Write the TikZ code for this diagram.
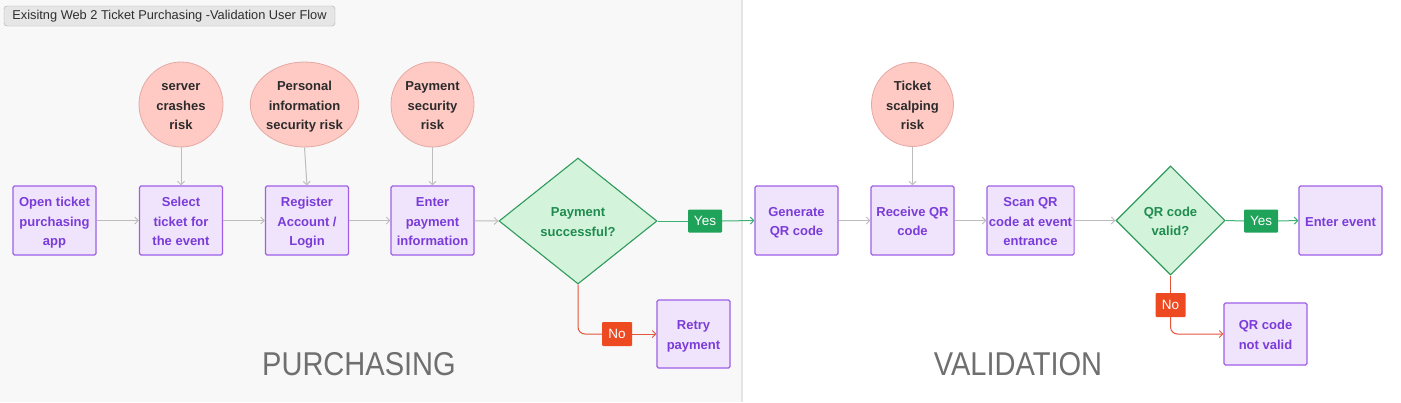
\documentclass[tikz,border=0pt]{standalone}
\usepackage{fontspec}
\setmainfont{Liberation Sans}
\usetikzlibrary{shapes.geometric,arrows.meta}
\definecolor{bgleft}{HTML}{F8F8F8}
\definecolor{divider}{HTML}{E4E4E4}
\definecolor{boxfill}{HTML}{F0E4FD}
\definecolor{boxdraw}{HTML}{9E5FE6}
\definecolor{boxtext}{HTML}{7A3CD8}
\definecolor{riskfill}{HTML}{FFC9C4}
\definecolor{riskdraw}{HTML}{E5A9A3}
\definecolor{risktext}{HTML}{2B2B2B}
\definecolor{decfill}{HTML}{D3F4DB}
\definecolor{decdraw}{HTML}{2F9A5B}
\definecolor{dectext}{HTML}{1F8B4E}
\definecolor{yesfill}{HTML}{1FA35A}
\definecolor{yesline}{HTML}{3DB274}
\definecolor{nofill}{HTML}{EE4A22}
\definecolor{noline}{HTML}{E5553B}
\definecolor{flowline}{HTML}{BDBDBD}
\definecolor{bigtext}{HTML}{6F6F6F}
\definecolor{titlefill}{HTML}{E6E6E6}
\definecolor{titledraw}{HTML}{A8A8A8}
\newcommand{\ml}[1]{\raisebox{-1.8pt}[\height][\depth]{\begin{tabular}{@{}c@{}}#1\end{tabular}}}
\tikzset{
  stepbox/.style={draw=boxdraw, fill=boxfill, line width=1.1pt, rounded corners=1.5pt,
    minimum width=83pt, minimum height=69pt, inner sep=2pt,
    text=boxtext, font=\fontsize{13}{19.5}\selectfont\bfseries},
  riskcirc/.style={ellipse, draw=riskdraw, fill=riskfill, line width=0.8pt,
    inner sep=0pt, text=risktext, font=\fontsize{13}{19.5}\selectfont\bfseries},
  decision/.style={diamond, draw=decdraw, fill=decfill, line width=1.1pt, inner sep=0pt,
    text=dectext, font=\fontsize{13}{19.5}\selectfont\bfseries},
  yestag/.style={fill=yesfill, text=white, rounded corners=1pt, minimum width=34pt,
    minimum height=23pt, inner sep=0pt, font=\fontsize{13.5}{15}\selectfont},
  notag/.style={fill=nofill, text=white, rounded corners=1pt, minimum width=30pt,
    minimum height=24pt, inner sep=0pt, font=\fontsize{13.5}{15}\selectfont},
  flow/.style={draw=flowline, line width=1pt, -{Straight Barb[length=3.5pt,width=7pt]}},
  yesflow/.style={draw=yesline, line width=1pt},
  noflow/.style={draw=noline, line width=1pt, rounded corners=7pt},
  phase/.style={text=bigtext, font=\fontsize{33}{36}\selectfont},
}
\begin{document}
\begin{tikzpicture}[x=1pt,y=-1pt]
\useasboundingbox (0,0) rectangle (1401,402);
\fill[white] (0,0) rectangle (1401,402);
\fill[bgleft] (0,0) rectangle (742,402);
\draw[divider, line width=1.2pt] (742,0) -- (742,402);

\node[draw=titledraw, fill=titlefill, rounded corners=3pt, minimum width=331pt, minimum height=20pt,
  inner sep=0pt, text=black!82, font=\fontsize{12.8}{14}\selectfont] (title) at (169.5,16)
  {Exisitng Web 2 Ticket Purchasing -Validation User Flow};

% risks
\node[riskcirc, minimum width=84pt, minimum height=85pt] (r1) at (181,104.5) {\ml{server\\crashes\\risk}};
\node[riskcirc, minimum width=103pt, minimum height=85pt] (r2) at (304.5,104.5) {\ml{Personal\\information\\security risk}};
\node[riskcirc, minimum width=83pt, minimum height=85pt] (r3) at (432.5,104.5) {\ml{Payment\\security\\risk}};
\node[riskcirc, minimum width=82pt, minimum height=84pt] (r4) at (912.5,104.5) {\ml{Ticket\\scalping\\risk}};

% steps
\node[stepbox] (open) at (54.5,220.5) {\ml{Open ticket\\purchasing\\app}};
\node[stepbox] (select) at (181,220.5) {\ml{Select\\ticket for\\the event}};
\node[stepbox] (reg) at (307,220.5) {\ml{Register\\Account /\\Login}};
\node[stepbox] (pay) at (432.5,220.5) {\ml{Enter\\payment\\information}};
\node[decision, minimum width=158pt, minimum height=126pt] (d1) at (578,221) {\ml{Payment\\successful?}};
\node[yestag] (yes1) at (705,221) {Yes};
\node[stepbox] (gen) at (796.5,220.5) {\ml{Generate\\QR code}};
\node[stepbox] (recv) at (912.5,220.5) {\ml{Receive QR\\code}};
\node[stepbox] (scan) at (1030.5,220.5) {\ml{Scan QR\\code at event\\entrance}};
\node[decision, minimum width=109pt, minimum height=109pt] (d2) at (1170.5,220.5) {\ml{QR code\\valid?}};
\node[yestag] (yes2) at (1261,221) {Yes};
\node[stepbox] (enter) at (1340.5,220.5) {\ml{Enter event}};
\node[notag] (no1) at (617,334) {No};
\node[stepbox, minimum width=73pt, minimum height=68pt] (retry) at (693.5,334) {\ml{Retry\\payment}};
\node[notag] (no2) at (1170.5,305) {No};
\node[stepbox, minimum width=83pt, minimum height=62pt] (inv) at (1265.5,334) {\ml{QR code\\not valid}};

% connectors
\draw[flow] (r1) -- (select);
\draw[flow] (r2.south) -- (reg.north);
\draw[flow] (r3) -- (pay);
\draw[flow] (r4) -- (recv);
\draw[flow] (open) -- (select);
\draw[flow] (select) -- (reg);
\draw[flow] (reg) -- (pay);
\draw[flow] (pay) -- (d1.west);
\draw[yesflow] (d1.east) -- (yes1.west);
\draw[yesflow, -{Straight Barb[length=3.5pt,width=7pt]}] (yes1.east) -- (gen.west);
\draw[flow] (gen) -- (recv);
\draw[flow] (recv) -- (scan);
\draw[flow] (scan) -- (d2.west);
\draw[yesflow] (d2.east) -- (yes2.west);
\draw[yesflow, -{Straight Barb[length=3.5pt,width=7pt]}] (yes2.east) -- (enter.west);
\draw[noflow] (d1.south) |- (no1.west);
\draw[noflow, -{Straight Barb[length=3.5pt,width=7pt]}] (no1.east) -- (retry.west);
\draw[noflow] (d2.south) -- (no2.north);
\draw[noflow, -{Straight Barb[length=3.5pt,width=7pt]}] (no2.south) |- (inv.west);

% phase labels
\node[phase] (purch) at (359,364) {\scalebox{0.88}[1]{PURCHASING}};
\node[phase] (valid) at (1018,364) {\scalebox{0.88}[1]{VALIDATION}};
\end{tikzpicture}
\end{document}
